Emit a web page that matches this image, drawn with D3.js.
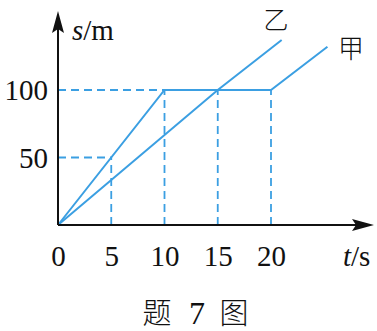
<!DOCTYPE html>
<html><head><meta charset="utf-8">
<script src="https://cdn.jsdelivr.net/npm/d3@7"></script>
<style>html,body{margin:0;padding:0;background:#fff;}svg{display:block;}</style>
</head><body>
<svg id="c" width="377" height="331"></svg>
<script>
const xTicks = [0, 5, 10, 15, 20];
const yTicks = [50, 100];
const jia = [[0, 0], [10, 100], [20, 100], [25.3, 132]];
const yi = [[0, 0], [15, 100], [21, 137]];
const guidesH = [[0, 100, 10], [0, 50, 5]]; // [t0, s, t1]
const guidesV = [[5, 50], [10, 100], [15, 100], [20, 100]]; // [t, s]
const seriesLabels = ["甲", "乙"];
const axisLabels = ["s", "/m", "t", "/s"];
const captionParts = ["题", "7", "图"];

const svg = d3.select("#c");
const x = d3.scaleLinear().domain([0, 20]).range([58, 271]);
const y = d3.scaleLinear().domain([0, 100]).range([225, 90]);
const blue = "#3b9fe2";
const serif = "'Liberation Serif','DejaVu Serif',serif";

// guides
const g = svg.append("g").attr("stroke", blue).attr("stroke-width", 1.8)
  .attr("stroke-dasharray", "8,5").attr("fill", "none");
guidesH.forEach(d => g.append("line").attr("x1", x(d[0])).attr("x2", x(d[2])).attr("y1", y(d[1])).attr("y2", y(d[1])));
guidesV.forEach(d => g.append("line").attr("x1", x(d[0])).attr("x2", x(d[0])).attr("y1", y(0)).attr("y2", y(d[1])));

// series
const line = d3.line().x(d => x(d[0])).y(d => y(d[1]));
[jia, yi].forEach(s => svg.append("path").attr("d", line(s)).attr("fill", "none")
  .attr("stroke", blue).attr("stroke-width", 2));

// axes
const ax = svg.append("g").attr("stroke", "#111").attr("stroke-width", 2);
ax.append("line").attr("x1", x(0)).attr("x2", 362).attr("y1", y(0)).attr("y2", y(0));
ax.append("line").attr("x1", x(0)).attr("x2", x(0)).attr("y1", y(0)).attr("y2", 24);
svg.append("path").attr("d", `M374,${y(0)} L352,${y(0)-6} L356,${y(0)} L352,${y(0)+6} Z`).attr("fill", "#111");
svg.append("path").attr("d", `M${x(0)},11 L${x(0)-6},33 L${x(0)},29 L${x(0)+6},33 Z`).attr("fill", "#111");

// tick labels via axes
const xa = d3.axisBottom(x).tickValues(xTicks).tickSize(0).tickPadding(0).tickFormat(d3.format("d"));
const xg = svg.append("g").attr("transform", `translate(0,${y(0) + 41})`).call(xa);
xg.select(".domain").remove();
xg.selectAll("text").attr("dy", 0).attr("font-family", serif).attr("font-size", 29).attr("fill", "#111");

const ya = d3.axisLeft(y).tickValues(yTicks).tickSize(0).tickPadding(0).tickFormat(d3.format("d"));
const yg = svg.append("g").attr("transform", `translate(48,0)`).call(ya);
yg.select(".domain").remove();
yg.selectAll("text").attr("dy", "0.34em").attr("font-family", serif).attr("font-size", 29).attr("fill", "#111");

// axis labels
const sl = svg.append("text").attr("x", 72).attr("y", 40).attr("font-family", serif).attr("font-size", 29).attr("fill", "#111");
sl.append("tspan").attr("font-style", "italic").text(axisLabels[0]);
sl.append("tspan").text(axisLabels[1]);
const tl = svg.append("text").attr("x", 343).attr("y", 266).attr("font-family", serif).attr("font-size", 29).attr("fill", "#111");
tl.append("tspan").attr("font-style", "italic").text(axisLabels[2]);
tl.append("tspan").text(axisLabels[3]);

// series labels
const cjk = "'Noto Sans CJK SC',sans-serif";
svg.append("text").attr("x", 351).attr("y", 58).attr("text-anchor", "middle").attr("font-family", cjk)
  .attr("font-size", 26).attr("font-weight", 300).attr("fill", "#111").text(seriesLabels[0]);
svg.append("text").attr("x", 276).attr("y", 29).attr("text-anchor", "middle").attr("font-family", cjk)
  .attr("font-size", 25).attr("font-weight", 300).attr("fill", "#111").text(seriesLabels[1]);

// caption
const capX = [157, 197, 234];
captionParts.forEach((t, i) => svg.append("text").attr("x", capX[i]).attr("y", 324).attr("text-anchor", "middle")
  .attr("font-family", i === 1 ? serif : cjk).attr("font-size", i === 1 ? 32 : 29).attr("font-weight", 300)
  .attr("fill", "#111").text(t));
</script>
</body></html>
